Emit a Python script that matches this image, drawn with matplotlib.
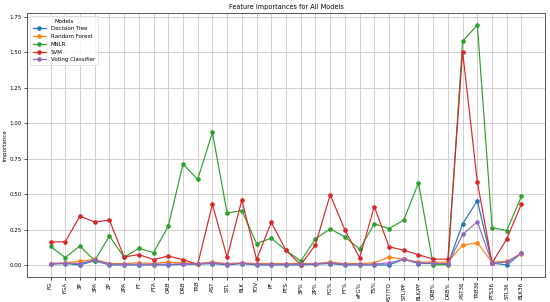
import matplotlib
matplotlib.use("Agg")
import matplotlib.pyplot as plt

features = ["FG", "FGA", "3P", "3PA", "2P", "2PA", "FT", "FTA", "ORB", "DRB",
            "TRB", "AST", "STL", "BLK", "TOV", "PF", "PTS", "3P%", "2P%", "FG%",
            "FT%", "eFG%", "TS%", "AST/TO", "STL/PF", "BLK/PF", "ORB%", "DRB%",
            "AST36", "TRB36", "PTS36", "STL36", "BLK36"]

decision_tree = [0.005, 0.01, 0.0, 0.03, 0.0, 0.0, 0.0, 0.0, 0.0, 0.005,
                 0.005, 0.01, 0.0, 0.01, 0.0, 0.0, 0.0, 0.0, 0.005, 0.01,
                 0.0, 0.0, 0.0, 0.0, 0.04, 0.01, 0.01, 0.005,
                 0.29, 0.454, 0.013, 0.0, 0.083]
random_forest = [0.01, 0.015, 0.025, 0.04, 0.01, 0.01, 0.015, 0.01, 0.02, 0.015,
                 0.01, 0.02, 0.01, 0.015, 0.01, 0.01, 0.01, 0.01, 0.01, 0.02,
                 0.01, 0.01, 0.015, 0.055, 0.04, 0.02, 0.02, 0.02,
                 0.14, 0.156, 0.02, 0.025, 0.08]
mnlr = [0.131, 0.052, 0.134, 0.03, 0.204, 0.054, 0.117, 0.087, 0.272, 0.712,
        0.604, 0.935, 0.366, 0.384, 0.151, 0.189, 0.102, 0.027, 0.184, 0.255,
        0.198, 0.111, 0.29, 0.257, 0.316, 0.58, 0.001, 0.001,
        1.58, 1.694, 0.262, 0.243, 0.485]
svm = [0.162, 0.164, 0.345, 0.303, 0.317, 0.056, 0.073, 0.038, 0.063, 0.037,
       0.004, 0.428, 0.053, 0.46, 0.039, 0.30, 0.104, 0.001, 0.142, 0.496,
       0.248, 0.05, 0.412, 0.128, 0.104, 0.072, 0.041, 0.041,
       1.506, 0.585, 0.013, 0.184, 0.431]
voting = [0.01, 0.012, 0.01, 0.035, 0.005, 0.005, 0.005, 0.005, 0.005, 0.008,
          0.008, 0.015, 0.005, 0.012, 0.005, 0.005, 0.005, 0.005, 0.008, 0.015,
          0.005, 0.005, 0.005, 0.015, 0.04, 0.015, 0.012, 0.008,
          0.215, 0.306, 0.013, 0.02, 0.083]

models = {
    "Decision Tree": decision_tree,
    "Random Forest": random_forest,
    "MNLR": mnlr,
    "SVM": svm,
    "Voting Classifier": voting,
}

fig, ax = plt.subplots(figsize=(5.5, 3.02), dpi=100)
fig.subplots_adjust(left=0.049, right=0.991, top=0.957, bottom=0.083)

for name, vals in models.items():
    ax.plot(features, vals, marker="o", markersize=2.3, linewidth=0.85, label=name)

ax.set_title("Feature Importances for All Models", fontsize=4.7, pad=3)
ax.set_ylabel("Importance", fontsize=4, labelpad=2)
ax.tick_params(axis="both", labelsize=4, length=2, width=0.5, pad=1.5)
ax.tick_params(axis="x", rotation=90)
ax.grid(True, linewidth=0.6, color="#c8c8c8")
for s in ax.spines.values():
    s.set_linewidth(0.7)
    s.set_color("#555555")
leg = ax.legend(title="Models", loc="upper left", fontsize=4, title_fontsize=4,
                markerscale=1.0, handlelength=2.5, borderpad=0.5, labelspacing=0.5)
leg.get_frame().set_linewidth(0.5)

fig.savefig("out.png", dpi=100)
